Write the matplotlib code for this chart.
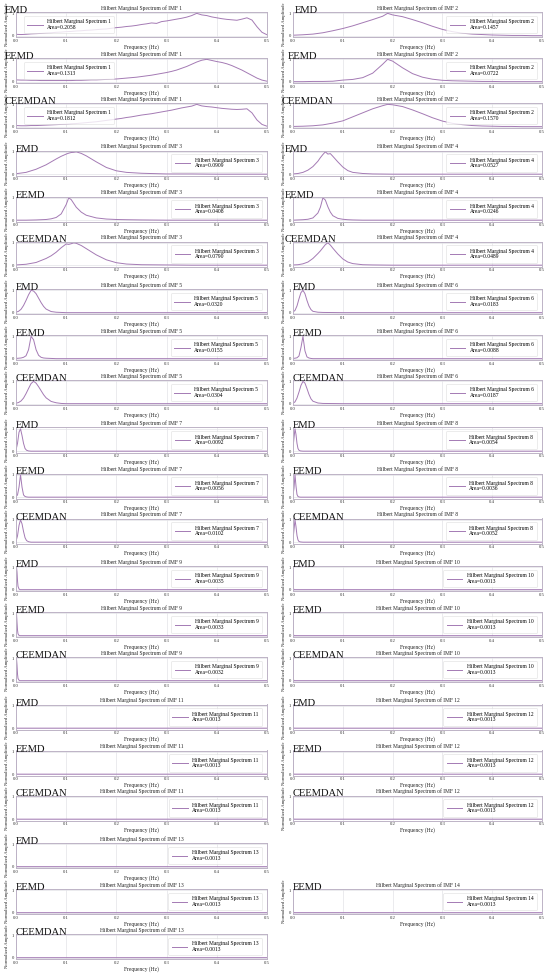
import matplotlib
matplotlib.use("Agg")
import matplotlib.pyplot as plt
from matplotlib.transforms import offset_copy

plt.rcParams['font.family'] = ['Liberation Serif', 'DejaVu Serif']

METHODS = ["EMD", "EEMD", "CEEMDAN"]

# ---------------- data (normalized amplitude vs frequency, Hz) ----------------
IMF1_F = [0.00, 0.01, 0.02, 0.03, 0.04, 0.05, 0.06, 0.07, 0.08, 0.09,
          0.10, 0.11, 0.12, 0.13, 0.14, 0.15, 0.16, 0.17, 0.18, 0.19,
          0.20, 0.21, 0.22, 0.23, 0.24, 0.25, 0.26, 0.27, 0.28, 0.29,
          0.30, 0.31, 0.32, 0.33, 0.34, 0.35, 0.36, 0.37, 0.38, 0.39,
          0.40, 0.41, 0.42, 0.43, 0.44, 0.45, 0.46, 0.47, 0.48, 0.49, 0.50]
IMF1_EMD = [0.06, 0.05, 0.06, 0.08, 0.09, 0.10, 0.12, 0.13, 0.15, 0.16,
            0.18, 0.19, 0.21, 0.22, 0.24, 0.25, 0.27, 0.29, 0.30, 0.33,
            0.36, 0.38, 0.41, 0.43, 0.46, 0.50, 0.53, 0.57, 0.55, 0.63,
            0.66, 0.70, 0.74, 0.78, 0.83, 0.90, 1.00, 0.93, 0.90, 0.84,
            0.80, 0.76, 0.73, 0.71, 0.69, 0.74, 0.80, 0.70, 0.40, 0.15, 0.04]
IMF1_EEMD = [0.08, 0.07, 0.07, 0.06, 0.06, 0.05, 0.05, 0.05, 0.05, 0.05,
             0.05, 0.05, 0.06, 0.06, 0.07, 0.08, 0.08, 0.09, 0.10, 0.11,
             0.12, 0.14, 0.16, 0.18, 0.20, 0.23, 0.26, 0.29, 0.33, 0.37,
             0.41, 0.46, 0.52, 0.60, 0.68, 0.78, 0.88, 0.96, 1.00, 0.95,
             0.90, 0.86, 0.80, 0.72, 0.62, 0.52, 0.40, 0.28, 0.16, 0.07, 0.02]
IMF1_CEEMDAN = [0.05, 0.04, 0.04, 0.05, 0.05, 0.06, 0.07, 0.08, 0.09, 0.10,
                0.11, 0.13, 0.14, 0.16, 0.18, 0.20, 0.22, 0.25, 0.28, 0.31,
                0.34, 0.37, 0.41, 0.44, 0.48, 0.52, 0.55, 0.58, 0.62, 0.66,
                0.70, 0.74, 0.79, 0.84, 0.88, 0.92, 1.00, 0.93, 0.90, 0.88,
                0.85, 0.82, 0.80, 0.78, 0.77, 0.78, 0.80, 0.62, 0.30, 0.10, 0.02]

IMF2_F = [0.00, 0.02, 0.04, 0.06, 0.08, 0.10, 0.12, 0.14, 0.16, 0.18, 0.19,
          0.20, 0.22, 0.24, 0.26, 0.28, 0.30, 0.32, 0.34, 0.36, 0.38, 0.40,
          0.42, 0.44, 0.46, 0.48, 0.50]
IMF2_EMD = [0.02, 0.04, 0.07, 0.13, 0.22, 0.32, 0.44, 0.58, 0.72, 0.87, 1.00,
            0.93, 0.85, 0.72, 0.58, 0.42, 0.28, 0.18, 0.11, 0.07, 0.05, 0.03,
            0.02, 0.01, 0.01, 0.00, 0.00]
IMF2_EEMD = [0.00, 0.00, 0.01, 0.01, 0.02, 0.07, 0.10, 0.18, 0.38, 0.78, 1.00,
             0.92, 0.62, 0.36, 0.20, 0.11, 0.06, 0.04, 0.03, 0.02, 0.01, 0.01,
             0.00, 0.00, 0.00, 0.00, 0.00]
IMF2_CEEMDAN = [0.01, 0.02, 0.04, 0.08, 0.16, 0.26, 0.44, 0.62, 0.80, 0.94, 1.00,
                0.98, 0.90, 0.75, 0.58, 0.40, 0.25, 0.15, 0.09, 0.05, 0.03, 0.02,
                0.01, 0.01, 0.00, 0.00, 0.00]

IMF3_F = [0.00, 0.02, 0.04, 0.06, 0.07, 0.08, 0.09, 0.10, 0.105, 0.11, 0.115,
          0.12, 0.13, 0.14, 0.16, 0.18, 0.20, 0.22, 0.25, 0.30, 0.35, 0.40, 0.50]
IMF3_EMD = [0.02, 0.08, 0.22, 0.42, 0.55, 0.68, 0.80, 0.90, 0.94, 0.97, 0.98,
            1.00, 0.93, 0.82, 0.55, 0.30, 0.15, 0.08, 0.04, 0.01, 0.01, 0.00, 0.00]
IMF3_EEMD = [0.00, 0.00, 0.01, 0.03, 0.06, 0.12, 0.28, 0.70, 1.00, 0.92, 0.75,
             0.58, 0.36, 0.22, 0.10, 0.05, 0.03, 0.02, 0.01, 0.00, 0.00, 0.00, 0.00]
IMF3_CEEMDAN = [0.01, 0.04, 0.12, 0.30, 0.42, 0.58, 0.78, 0.95, 0.93, 0.96, 1.00,
                0.98, 0.88, 0.74, 0.46, 0.24, 0.11, 0.05, 0.02, 0.01, 0.00, 0.00, 0.00]

IMF4_F = [0.00, 0.01, 0.02, 0.03, 0.04, 0.05, 0.055, 0.06, 0.065, 0.07, 0.075,
          0.08, 0.09, 0.10, 0.11, 0.12, 0.14, 0.16, 0.20, 0.30, 0.40, 0.50]
IMF4_EMD = [0.01, 0.03, 0.08, 0.18, 0.34, 0.58, 0.74, 0.88, 1.00, 0.90, 0.92,
            0.80, 0.55, 0.32, 0.16, 0.08, 0.03, 0.01, 0.00, 0.00, 0.00, 0.00]
IMF4_EEMD = [0.00, 0.01, 0.02, 0.04, 0.10, 0.32, 0.58, 1.00, 0.90, 0.60, 0.36,
             0.20, 0.08, 0.04, 0.02, 0.01, 0.00, 0.00, 0.00, 0.00, 0.00, 0.00]
IMF4_CEEMDAN = [0.01, 0.02, 0.06, 0.14, 0.30, 0.52, 0.64, 0.78, 0.92, 1.00, 0.90,
                0.76, 0.50, 0.28, 0.14, 0.07, 0.02, 0.01, 0.00, 0.00, 0.00, 0.00]

IMF5_F = [0.000, 0.005, 0.010, 0.015, 0.020, 0.025, 0.030, 0.035, 0.040, 0.045,
          0.050, 0.055, 0.060, 0.070, 0.080, 0.090, 0.100, 0.200, 0.300, 0.400, 0.500]
IMF5_EMD = [0.02, 0.06, 0.15, 0.32, 0.55, 0.80, 1.00, 0.97, 0.85, 0.65,
            0.45, 0.28, 0.16, 0.05, 0.02, 0.01, 0.00, 0.00, 0.00, 0.00, 0.00]
IMF5_EEMD = [0.01, 0.02, 0.03, 0.06, 0.13, 0.40, 1.00, 0.85, 0.40, 0.15,
             0.06, 0.03, 0.02, 0.01, 0.00, 0.00, 0.00, 0.00, 0.00, 0.00, 0.00]
IMF5_CEEMDAN = [0.02, 0.05, 0.12, 0.25, 0.45, 0.68, 0.90, 1.00, 0.92, 0.76,
                0.58, 0.40, 0.26, 0.10, 0.04, 0.01, 0.00, 0.00, 0.00, 0.00, 0.00]

IMF6_F = [0.000, 0.004, 0.008, 0.012, 0.016, 0.020, 0.024, 0.028, 0.032, 0.036,
          0.040, 0.050, 0.060, 0.100, 0.200, 0.300, 0.400, 0.500]
IMF6_EMD = [0.03, 0.10, 0.30, 0.62, 0.90, 1.00, 0.85, 0.55, 0.30, 0.14,
            0.06, 0.02, 0.01, 0.00, 0.00, 0.00, 0.00, 0.00]
IMF6_EEMD = [0.01, 0.02, 0.04, 0.12, 0.50, 1.00, 0.35, 0.08, 0.03, 0.01,
             0.00, 0.00, 0.00, 0.00, 0.00, 0.00, 0.00, 0.00]
IMF6_CEEMDAN = [0.02, 0.08, 0.25, 0.52, 0.82, 1.00, 0.92, 0.68, 0.42, 0.22,
                0.11, 0.03, 0.01, 0.00, 0.00, 0.00, 0.00, 0.00]

IMF7_F = [0.000, 0.003, 0.006, 0.009, 0.012, 0.015, 0.018, 0.021, 0.025, 0.030,
          0.040, 0.100, 0.500]
IMF7_EMD = [0.05, 0.35, 0.85, 1.00, 0.70, 0.35, 0.12, 0.04, 0.01, 0.00, 0.00, 0.00, 0.00]
IMF7_EEMD = [0.02, 0.10, 0.45, 1.00, 0.45, 0.10, 0.03, 0.01, 0.00, 0.00, 0.00, 0.00, 0.00]
IMF7_CEEMDAN = [0.04, 0.28, 0.75, 1.00, 0.82, 0.48, 0.20, 0.07, 0.02, 0.00, 0.00, 0.00, 0.00]

IMF8_F = [0.000, 0.002, 0.004, 0.006, 0.008, 0.010, 0.012, 0.015, 0.020, 0.100, 0.500]
IMF8_EMD = [0.15, 0.60, 1.00, 0.75, 0.35, 0.12, 0.04, 0.01, 0.00, 0.00, 0.00]
IMF8_EEMD = [0.08, 0.40, 1.00, 0.50, 0.12, 0.03, 0.01, 0.00, 0.00, 0.00, 0.00]
IMF8_CEEMDAN = [0.12, 0.55, 1.00, 0.70, 0.30, 0.10, 0.03, 0.01, 0.00, 0.00, 0.00]

IMF9_F = [0.000, 0.001, 0.002, 0.003, 0.004, 0.006, 0.008, 0.500]
IMF9_EMD = [0.60, 1.00, 0.80, 0.40, 0.15, 0.03, 0.00, 0.00]
IMF9_EEMD = [0.70, 1.00, 0.60, 0.25, 0.08, 0.01, 0.00, 0.00]
IMF9_CEEMDAN = [0.65, 1.00, 0.70, 0.30, 0.10, 0.02, 0.00, 0.00]

LOW_F = [0.000, 0.001, 0.002, 0.500]
IMF10_EMD = [1.00, 0.05, 0.00, 0.00]
IMF10_EEMD = [1.00, 0.05, 0.00, 0.00]
IMF10_CEEMDAN = [1.00, 0.05, 0.00, 0.00]
IMF11_EMD = [0.60, 0.03, 0.00, 0.00]
IMF11_EEMD = [1.00, 0.03, 0.00, 0.00]
IMF11_CEEMDAN = [1.00, 0.03, 0.00, 0.00]
IMF12_EMD = [1.00, 0.03, 0.00, 0.00]
IMF12_EEMD = [1.00, 0.03, 0.00, 0.00]
IMF12_CEEMDAN = [1.00, 0.03, 0.00, 0.00]
IMF13_EMD = [0.60, 0.03, 0.00, 0.00]
IMF13_EEMD = [1.00, 0.03, 0.00, 0.00]
IMF13_CEEMDAN = [1.00, 0.03, 0.00, 0.00]
IMF14_EEMD = [1.00, 0.03, 0.00, 0.00]

AREA_EMD = ["0.2058", "0.1457", "0.0909", "0.0527", "0.0320", "0.0183", "0.0092",
            "0.0054", "0.0035", "0.0013", "0.0013", "0.0013", "0.0013", None]
AREA_EEMD = ["0.1313", "0.0722", "0.0408", "0.0246", "0.0155", "0.0088", "0.0056",
             "0.0036", "0.0033", "0.0013", "0.0013", "0.0013", "0.0013", "0.0013"]
AREA_CEEMDAN = ["0.1812", "0.1570", "0.0790", "0.0489", "0.0304", "0.0187", "0.0102",
                "0.0052", "0.0032", "0.0013", "0.0013", "0.0013", "0.0013", None]

X_TICKS = [0.0, 0.1, 0.2, 0.3, 0.4, 0.5]
X_TICK_LABELS = ["0.0", "0.1", "0.2", "0.3", "0.4", "0.5"]
Y_TICKS = [0, 1]

# ---------------- assemble ----------------
FREQS = [IMF1_F, IMF2_F, IMF3_F, IMF4_F, IMF5_F, IMF6_F, IMF7_F, IMF8_F, IMF9_F,
         LOW_F, LOW_F, LOW_F, LOW_F, LOW_F]
SERIES = {
    "EMD": [IMF1_EMD, IMF2_EMD, IMF3_EMD, IMF4_EMD, IMF5_EMD, IMF6_EMD, IMF7_EMD,
            IMF8_EMD, IMF9_EMD, IMF10_EMD, IMF11_EMD, IMF12_EMD, IMF13_EMD, None],
    "EEMD": [IMF1_EEMD, IMF2_EEMD, IMF3_EEMD, IMF4_EEMD, IMF5_EEMD, IMF6_EEMD, IMF7_EEMD,
             IMF8_EEMD, IMF9_EEMD, IMF10_EEMD, IMF11_EEMD, IMF12_EEMD, IMF13_EEMD, IMF14_EEMD],
    "CEEMDAN": [IMF1_CEEMDAN, IMF2_CEEMDAN, IMF3_CEEMDAN, IMF4_CEEMDAN, IMF5_CEEMDAN,
                IMF6_CEEMDAN, IMF7_CEEMDAN, IMF8_CEEMDAN, IMF9_CEEMDAN, IMF10_CEEMDAN,
                IMF11_CEEMDAN, IMF12_CEEMDAN, IMF13_CEEMDAN, None],
}
AREAS = {"EMD": AREA_EMD, "EEMD": AREA_EEMD, "CEEMDAN": AREA_CEEMDAN}

W, H = 550, 976
fig = plt.figure(figsize=(W / 100, H / 100), dpi=100)
fig.patch.set_facecolor("white")

LINE_COLOR = "#a47ab4"
SPINE_COLOR = "#bdb3c6"
AX_LEFT = [16, 293]
AX_W = [251, 249]
SUB_OFF = [0, 46, 91]
AX_H = 25


def label_dx(col, group, sub):
    if col == 0:
        return -11 if group == 0 else 0
    if group == 0:
        return [2, -5, -11][sub]
    if group == 1:
        return -8
    return 0


for imf in range(14):
    col = imf % 2
    group = imf // 2
    for sub, method in enumerate(METHODS):
        amps = SERIES[method][imf]
        if amps is None:
            continue
        top = 12 + 138.5 * group + SUB_OFF[sub]
        ax = fig.add_axes([AX_LEFT[col] / W, 1 - (top + AX_H) / H, AX_W[col] / W, AX_H / H])
        label = "Hilbert Marginal Spectrum %d\nArea=%s" % (imf + 1, AREAS[method][imf])
        ax.plot(FREQS[imf], amps, color=LINE_COLOR, lw=0.7, label=label)
        ax.set_xlim(0, 0.5)
        ax.set_ylim(-0.06, 1.06)
        ax.set_xticks(X_TICKS)
        ax.set_xticklabels(X_TICK_LABELS)
        ax.set_yticks(Y_TICKS)
        ax.tick_params(length=0, pad=1.2, labelsize=3.4, colors="#333333")
        ax.grid(True, color="#e3e3e8", lw=0.5)
        ax.set_axisbelow(True)
        for s in ax.spines.values():
            s.set_color(SPINE_COLOR)
            s.set_linewidth(0.7)
        ax.set_title("Hilbert Marginal Spectrum of IMF %d" % (imf + 1), fontsize=4, pad=1.5,
                     color="#222222")
        ax.set_xlabel("Frequency (Hz)", fontsize=4, labelpad=0.8, color="#222222")
        ax.set_ylabel("Normalized Amplitude", fontsize=3.4, labelpad=2.2, color="#222222")
        leg = ax.legend(loc="center left" if imf == 0 else "center right", fontsize=4,
                        frameon=True, handlelength=2.8, borderpad=0.6,
                        bbox_to_anchor=(0.02, 0.5, 0.96, 0) if imf == 0 else (0.0, 0.5, 0.99, 0))
        leg.get_frame().set_edgecolor("#d6d6d6")
        leg.get_frame().set_linewidth(0.4)
        tr = offset_copy(ax.transAxes, fig=fig, x=label_dx(col, group, sub), y=-1, units="dots")
        ax.text(0, 1, method, transform=tr, fontsize=7.6, ha="left", va="baseline",
                color="#111111")

fig.savefig("out.png", dpi=100, facecolor="white")
